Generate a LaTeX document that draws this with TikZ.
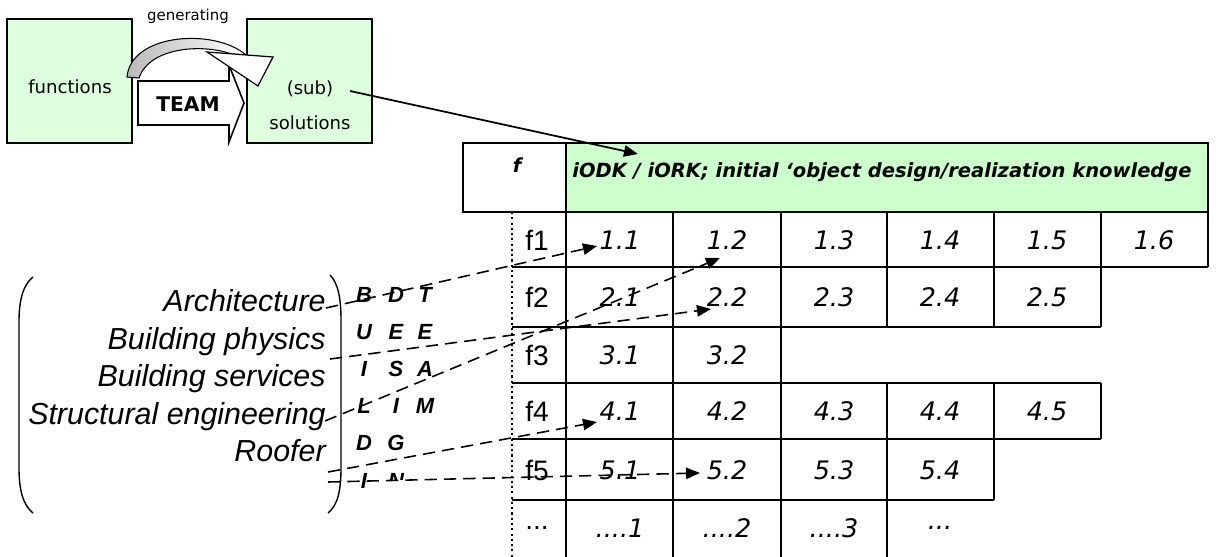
\documentclass[tikz,border=0pt]{standalone}
\usepackage{fontspec}
\setmainfont{Liberation Sans}
\newfontfamily\djfont{DejaVu Sans}
\usetikzlibrary{arrows.meta,calc}
\definecolor{boxgreen}{RGB}{221,255,221}
\definecolor{headgreen}{RGB}{204,255,204}
\begin{document}
\begin{tikzpicture}[x=0.02cm,y=-0.02cm,
  greenbox/.style={draw,line width=1pt,fill=boxgreen,minimum width=2.5cm,minimum height=2.48cm,inner sep=0},
  tline/.style={line width=1.1pt},
  link/.style={dash pattern=on 7pt off 4pt,line width=0.9pt,-{Triangle[length=8pt,width=6.5pt]}},
  role/.style={anchor=base east,inner sep=0,font=\fontsize{17.3}{20}\selectfont\itshape},
  num/.style={font=\djfont\itshape\fontsize{14.5}{16}\selectfont},
  flab/.style={font=\fontsize{16}{18}\selectfont},
  letter/.style={anchor=base,inner sep=0,font=\bfseries\itshape\fontsize{12.5}{14}\selectfont},
  small/.style={anchor=base,inner sep=0,font=\djfont\fontsize{10.3}{12}\selectfont}]
\useasboundingbox (0,0) rectangle (1217,557);

% ---------- top left: functions -> (sub) solutions ----------
\node[greenbox] (fbox) at (69.5,81) {};
\node[small] (ftext) at (70,94) {functions};
\node[greenbox] (sbox) at (309.5,81) {};
\node[small] (subtext) at (310,95) {(sub)};
\node[small] (soltext) at (310,130) {solutions};

% TEAM block arrow
\draw[line width=0.9pt,fill=white] (138,81) -- (229,81) -- (229,65) -- (244,103) -- (229,142) -- (229,125) -- (138,125) -- cycle;
\node[anchor=base,inner sep=0,font=\djfont\bfseries\fontsize{11.5}{13}\selectfont] (team) at (188,112) {TEAM};

% generating curved arrow
\shadedraw[left color=gray!55,right color=white,line width=0.6pt]
  (127,77) .. controls (131,33) and (215,28) .. (246,55)
  -- (231,54) .. controls (205,44) and (150,46) .. (139,78) -- cycle;
\draw[line width=0.7pt,fill=white] (207,52) -- (273,57) -- (258,86) -- cycle;
\node[anchor=base,inner sep=0,font=\djfont\fontsize{8.5}{10}\selectfont] (gen) at (188,21) {generating};

% ---------- table ----------
\fill[headgreen] (566,143) rectangle (1208,212);
\draw[tline] (463,143) rectangle (1208,212);
\draw[tline] (566,143) -- (566,557);
\draw[tline] (673,212) -- (673,557);
\draw[tline] (781,212) -- (781,557);
\draw[tline] (887,212) -- (887,327) (887,383) -- (887,557);
\draw[tline] (994,212) -- (994,327) (994,383) -- (994,500);
\draw[tline] (1101,212) -- (1101,327) (1101,383) -- (1101,439);
\draw[tline] (1208,212) -- (1208,267);
\draw[tline] (512,267) -- (1208,267);
\draw[tline] (512,327) -- (1101,327);
\draw[tline] (512,383) -- (1101,383);
\draw[tline] (512,439) -- (1101,439);
\draw[tline] (512,500) -- (994,500);
\draw[line width=1.2pt,dash pattern=on 1.2pt off 1.8pt] (512,212) -- (512,557);

\node[anchor=base,inner sep=0,font=\djfont\bfseries\itshape\fontsize{11}{13}\selectfont] (fhead) at (517,173) {f};
\node[anchor=base west,inner sep=0,font=\djfont\bfseries\itshape\fontsize{11.1}{13}\selectfont] (hdr) at (572,178) {iODK / iORK; initial ‘object design/realization knowledge};

% f labels
\foreach \r/\y in {1/240,2/297,3/355,4/411,5/470}
  \node[flab] (f\r) at (537,\y) {f\r};
\node[flab] (f6) at (537,528) {...};

% cell numbers
\foreach \c/\x in {1/620,2/727,3/834,4/940,5/1047,6/1154}
  \node[num] (c1\c) at (\x,240) {1.\c};
\foreach \c/\x in {1/620,2/727,3/834,4/940,5/1047}
  \node[num] (c2\c) at (\x,297) {2.\c};
\foreach \c/\x in {1/620,2/727}
  \node[num] (c3\c) at (\x,355) {3.\c};
\foreach \c/\x in {1/620,2/727,3/834,4/940,5/1047}
  \node[num] (c4\c) at (\x,411) {4.\c};
\foreach \c/\x in {1/620,2/727,3/834,4/940}
  \node[num] (c5\c) at (\x,470) {5.\c};
\node[num] (c61) at (620,528) {....1};
\node[num] (c62) at (727,528) {....2};
\node[num] (c63) at (834,528) {....3};
\node[num] (c64) at (940,528) {...};

% ---------- team members ----------
\draw[line width=0.8pt] (33,277) .. controls (23,285) and (19,300) .. (19,322) -- (19,468) .. controls (19,490) and (23,505) .. (33,513);
\draw[line width=0.8pt] (330,275) .. controls (338,283) and (341,298) .. (341,320) -- (341,468) .. controls (341,490) and (338,505) .. (328,513);

\node[role] (arch) at (326,311.5) {Architecture};
\node[role] (phys) at (326,349) {Building physics};
\node[role] (serv) at (326,386.5) {Building services};
\node[role] (stru) at (326,424) {Structural engineering};
\node[role] (roof) at (326,461.5) {Roofer};

% vertical words BUILDING / DESIGN / TEAM
\foreach \i/\y/\a/\b/\c in {1/302/B/D/T,2/339/U/E/E,3/376/I/S/A,4/413/L/I/M,5/450/D/G/}{
  \node[letter] (la\i) at (364,\y) {\a};
  \node[letter] (lb\i) at (396,\y) {\b};
  \node[letter] (lc\i) at (425,\y) {\c};
}
\node[letter] (la6) at (364,488) {I};
\begin{scope}
  \clip (385,472) rectangle (410,479);
  \node[letter] (lb6) at (396,488) {N};
\end{scope}

% ---------- connectors ----------
\coordinate (subout) at (350,91);
\coordinate (hdrin) at (638,154);
\draw[line width=1pt,-{Triangle[length=8pt,width=6.5pt]}] (subout) -- (hdrin);

\coordinate (archout) at (326,308);
\coordinate (physout) at (330,359);
\coordinate (struout) at (325,421);
\coordinate (roofout) at (328,472);
\coordinate (lastout) at (328,482);
\coordinate (to11) at (597,246);
\coordinate (to22) at (711,309);
\coordinate (to12) at (720,258);
\coordinate (to41) at (597,422);
\coordinate (to52) at (700,473);
\draw[link] (archout) -- (to11);
\draw[link] (physout) -- (to22);
\draw[link] (struout) -- (to12);
\draw[link] (roofout) -- (to41);
\draw[link] (lastout) -- (to52);
\end{tikzpicture}
\end{document}
